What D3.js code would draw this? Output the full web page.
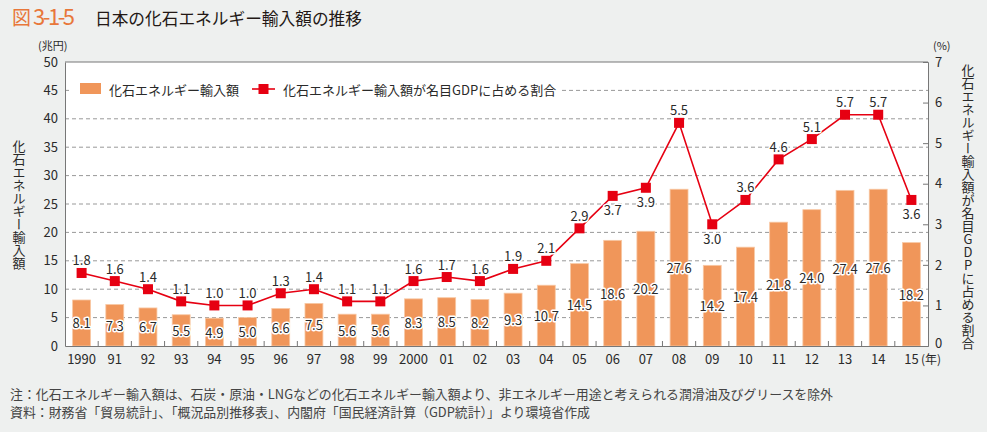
<!DOCTYPE html>
<html><head><meta charset="utf-8">
<script src="https://cdn.jsdelivr.net/npm/d3@7"></script>
<style>
html,body{margin:0;padding:0;background:#eef0ef;}
svg{display:block;font-family:"Noto Sans CJK JP","Noto Sans",sans-serif;}
</style></head>
<body><svg id="c" width="987" height="432"></svg>
<script>
const years = ["1990","91","92","93","94","95","96","97","98","99","2000","01","02","03","04","05","06","07","08","09","10","11","12","13","14","15"];
const importValues = [8.1,7.3,6.7,5.5,4.9,5.0,6.6,7.5,5.6,5.6,8.3,8.5,8.2,9.3,10.7,14.5,18.6,20.2,27.6,14.2,17.4,21.8,24.0,27.4,27.6,18.2];
const gdpShare = [1.8,1.6,1.4,1.1,1.0,1.0,1.3,1.4,1.1,1.1,1.6,1.7,1.6,1.9,2.1,2.9,3.7,3.9,5.5,3.0,3.6,4.6,5.1,5.7,5.7,3.6];
const labelBelow = ["06","07","09","15"];
const leftTicks = [0,5,10,15,20,25,30,35,40,45,50];
const rightTicks = [0,1,2,3,4,5,6,7];
const titleMark = "図";
const titleNum = "3-1-5";
const titleText = "日本の化石エネルギー輸入額の推移";
const barName = "化石エネルギー輸入額";
const lineName = "化石エネルギー輸入額が名目GDPに占める割合";
const notes = ["注：化石エネルギー輸入額は、石炭・原油・LNGなどの化石エネルギー輸入額より、非エネルギー用途と考えられる潤滑油及びグリースを除外",
               "資料：財務省「貿易統計」、「概況品別推移表」、内閣府「国民経済計算（GDP統計）」より環境省作成"];

const svg = d3.select("#c");
const L = 65, R = 928, T = 62, B = 346;
const txt = "#2a2a2a", axisCol = "#777";
const barCol = "#f0965a", lineCol = "#e60012";

const x = d3.scaleBand().domain(years).range([L, R]).paddingInner(0.46).paddingOuter(0.23);
const xb = d3.scaleBand().domain(years).range([L, R]);
const yL = d3.scaleLinear().domain([0,50]).range([B, T]);
const yR = d3.scaleLinear().domain([0,7]).range([B, T]);

// title
svg.append("text").attr("x",12).attr("y",25).style("font-size","19px").attr("fill","#e8773a").text(titleMark);
svg.append("text").attr("x",33).attr("y",25).style("font-size","22px").attr("fill","#e8773a")
  .attr("textLength",42).attr("lengthAdjust","spacing").text(titleNum);
svg.append("text").attr("x",95).attr("y",25).style("font-size","16.7px").attr("fill","#231815").text(titleText);

// plot background
svg.append("rect").attr("x",L).attr("y",T).attr("width",R-L).attr("height",B-T).attr("fill","#fff");

// gridlines
svg.append("g").selectAll("line").data(leftTicks.filter(d=>d>0&&d<50)).join("line")
  .attr("x1",L).attr("x2",R).attr("y1",d=>yL(d)).attr("y2",d=>yL(d))
  .attr("stroke","#999").attr("stroke-dasharray","4,3").attr("stroke-width",1);

// legend box background
svg.append("rect").attr("x",72).attr("y",78).attr("width",488).attr("height",22).attr("fill","#fff");

// bars
svg.append("g").selectAll("rect").data(importValues).join("rect")
  .attr("x",(d,i)=>x(years[i])).attr("width",x.bandwidth())
  .attr("y",d=>yL(d)).attr("height",d=>B-yL(d))
  .attr("fill",barCol).attr("stroke","#f8c8a4").attr("stroke-width",0.8);

// axes
const gLeft = svg.append("g").attr("transform",`translate(${L},0)`)
  .call(d3.axisLeft(yL).tickValues(leftTicks).tickSize(0).tickPadding(7));
const gRight = svg.append("g").attr("transform",`translate(${R},0)`)
  .call(d3.axisRight(yR).tickValues(rightTicks).tickFormat(d3.format("d")).tickSize(-5).tickPadding(7));
const gBottom = svg.append("g").attr("transform",`translate(0,${B})`)
  .call(d3.axisBottom(x).tickSize(0).tickPadding(9));
[gLeft,gRight,gBottom].forEach(g=>{
  g.select(".domain").attr("stroke",axisCol);
  g.selectAll(".tick line").attr("stroke",axisCol);
  g.selectAll("text").attr("font-size",13).attr("fill",txt).attr("font-family","'Noto Sans CJK JP',sans-serif");
});
gRight.selectAll(".tick").filter(d=>d===0||d===7).select("line").remove();
gRight.selectAll(".tick").filter(d=>d===0).select("text").attr("dy","0.1em");
// category boundary ticks on x axis
svg.append("g").selectAll("line").data(years.slice(1)).join("line")
  .attr("x1",d=>xb(d)).attr("x2",d=>xb(d)).attr("y1",B).attr("y2",B-5).attr("stroke",axisCol);
// top frame
svg.append("line").attr("x1",L).attr("x2",R).attr("y1",T).attr("y2",T).attr("stroke",axisCol);

// year unit
svg.append("text").attr("x",921).attr("y",364).attr("font-size",12).attr("fill",txt).text("(年)");
// unit labels
svg.append("text").attr("x",38).attr("y",50).attr("font-size",11).attr("fill",txt).text("(兆円)");
svg.append("text").attr("x",933).attr("y",50).attr("font-size",11).attr("fill",txt).text("(%)");

// bar value labels
svg.append("g").selectAll("text").data(importValues).join("text")
  .attr("x",(d,i)=>x(years[i])+x.bandwidth()/2).attr("y",d=>yL(d/2))
  .attr("text-anchor","middle").attr("dominant-baseline","central")
  .attr("font-size",13).attr("fill",txt).attr("stroke","#fff").attr("stroke-width",3)
  .attr("paint-order","stroke").attr("stroke-linejoin","round")
  .text(d=>d.toFixed(1));

// line
const cx = i => x(years[i]) + x.bandwidth()/2;
svg.append("path").datum(gdpShare)
  .attr("d", d3.line().x((d,i)=>cx(i)).y(d=>yR(d)))
  .attr("fill","none").attr("stroke",lineCol).attr("stroke-width",1.6);
svg.append("g").selectAll("rect").data(gdpShare).join("rect")
  .attr("x",(d,i)=>cx(i)-5).attr("y",d=>yR(d)-5).attr("width",10).attr("height",10).attr("fill",lineCol);
svg.append("g").selectAll("text").data(gdpShare).join("text")
  .attr("x",(d,i)=>cx(i))
  .attr("y",(d,i)=>yR(d) + (labelBelow.includes(years[i]) ? 14 : -13))
  .attr("text-anchor","middle").attr("dominant-baseline","central")
  .attr("font-size",13).attr("fill",txt).attr("stroke","#fff").attr("stroke-width",3)
  .attr("paint-order","stroke").attr("stroke-linejoin","round")
  .text(d=>d.toFixed(1));

// legend
svg.append("rect").attr("x",80).attr("y",83).attr("width",21).attr("height",11).attr("fill",barCol);
svg.append("text").attr("x",109).attr("y",89).attr("dominant-baseline","central").attr("font-size",13).attr("fill",txt).text(barName);
svg.append("line").attr("x1",252).attr("x2",275).attr("y1",89).attr("y2",89).attr("stroke",lineCol).attr("stroke-width",1.6);
svg.append("rect").attr("x",258.5).attr("y",84).attr("width",10).attr("height",10).attr("fill",lineCol);
svg.append("text").attr("x",283).attr("y",89).attr("dominant-baseline","central").attr("font-size",13).attr("fill",txt).text(lineName);

// vertical axis titles
svg.append("text").attr("x",19).attr("y",140).attr("font-size",13).attr("fill",txt)
  .attr("writing-mode","vertical-rl").style("text-orientation","upright").text(barName);
svg.append("text").attr("x",968).attr("y",64).attr("font-size",13).attr("fill",txt)
  .attr("writing-mode","vertical-rl").style("text-orientation","upright").text(lineName);

// notes
svg.append("g").selectAll("text").data(notes).join("text")
  .attr("x",10).attr("y",(d,i)=>399+i*18).attr("font-size",12.9).attr("fill","#444").text(d=>d);
</script></body></html>
